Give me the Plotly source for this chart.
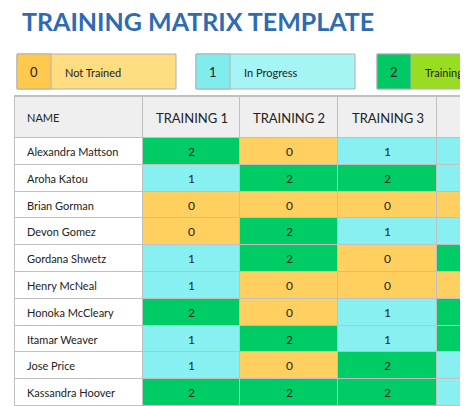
import plotly.graph_objects as go

names = ["Alexandra Mattson", "Aroha Katou", "Brian Gorman", "Devon Gomez", "Gordana Shwetz",
         "Henry McNeal", "Honoka McCleary", "Itamar Weaver", "Jose Price", "Kassandra Hoover"]
trainings = ["TRAINING 1", "TRAINING 2", "TRAINING 3", "TRAINING 4"]
t1 = [2, 1, 0, 0, 1, 1, 2, 1, 1, 2]
t2 = [0, 2, 0, 2, 2, 0, 0, 2, 0, 2]
t3 = [1, 2, 0, 1, 0, 0, 1, 1, 2, 2]
t4 = [1, 1, 0, 1, 2, 0, 2, 2, 1, 1]
legend_codes = [0, 1, 2]
legend_labels = ["Not Trained", "In Progress", "Training Complete"]

cols = [t1, t2, t3, t4]
xb = [15, 143, 240, 338, 437, 535]
yb = [97, 138] + [138 + 26.8 * (i + 1) for i in range(len(names))]

z = [[4] * 5]
for r in range(len(names)):
    z.append([3] + [c[r] for c in cols])

cs = [[0, "#ffd060"], [0.2, "#ffd060"], [0.2, "#88f0f0"], [0.4, "#88f0f0"],
      [0.4, "#00cc66"], [0.6, "#00cc66"], [0.6, "#ffffff"], [0.8, "#ffffff"],
      [0.8, "#efefef"], [1, "#efefef"]]

fig = go.Figure(go.Heatmap(x=xb, y=yb, z=z, zmin=-0.5, zmax=4.5, colorscale=cs,
                           showscale=False, xgap=1, ygap=1, hoverinfo="skip"))

shapes = [dict(type="rect", x0=xb[0] - 1, x1=xb[-1], y0=yb[0] - 2, y1=yb[-1],
               fillcolor="#c0c0c0", line_width=0, layer="below")]
ann = []
F = "Lato, Open Sans, sans-serif"
ann.append(dict(x=20, y=21, text="<b>TRAINING MATRIX TEMPLATE</b>", showarrow=False,
                xanchor="left", yanchor="middle", font=dict(family=F, size=25, color="#2e6bb0")))
ann.append(dict(x=25, y=117, text="NAME", showarrow=False, xanchor="left",
                font=dict(family=F, size=11, color="#222")))
for i, t in enumerate(trainings):
    ann.append(dict(x=(xb[i + 1] + xb[i + 2]) / 2, y=118, text=t, showarrow=False,
                    font=dict(family=F, size=13, color="#222")))
for r, n in enumerate(names):
    yc = (yb[r + 1] + yb[r + 2]) / 2
    ann.append(dict(x=25, y=yc, text=n, showarrow=False, xanchor="left",
                    font=dict(family=F, size=11, color="#222")))
    for i, c in enumerate(cols[:3]):
        ann.append(dict(x=(xb[i + 1] + xb[i + 2]) / 2, y=yc, text=str(c[r]), showarrow=False,
                        font=dict(family=F, size=12, color="#222")))

lx = [17, 196, 377]
dark = ["#ffc94d", "#80ecec", "#00c864"]
light = ["#fedd80", "#a5f5f5", "#99dd22"]
for i, code in enumerate(legend_codes):
    x0 = lx[i]
    shapes.append(dict(type="rect", x0=x0, x1=x0 + 159, y0=54, y1=89, fillcolor=light[i],
                       line=dict(color="#b0b0b0", width=1)))
    shapes.append(dict(type="rect", x0=x0, x1=x0 + 34, y0=54, y1=89, fillcolor=dark[i],
                       line=dict(color="#b0b0b0", width=1)))
    ann.append(dict(x=x0 + 17, y=72, text=str(code), showarrow=False,
                    font=dict(family=F, size=13, color="#222")))
    ann.append(dict(x=x0 + 46, y=72, text=legend_labels[i], showarrow=False, xanchor="left",
                    font=dict(family=F, size=11, color="#222")))

fig.update_layout(width=468, height=406, margin=dict(l=0, r=0, t=0, b=0),
                  paper_bgcolor="white", plot_bgcolor="white", shapes=shapes, annotations=ann,
                  xaxis=dict(range=[8, 476], visible=False, fixedrange=True),
                  yaxis=dict(range=[414, 8], visible=False, fixedrange=True))
fig.write_html("out.html", config={"displayModeBar": False})
